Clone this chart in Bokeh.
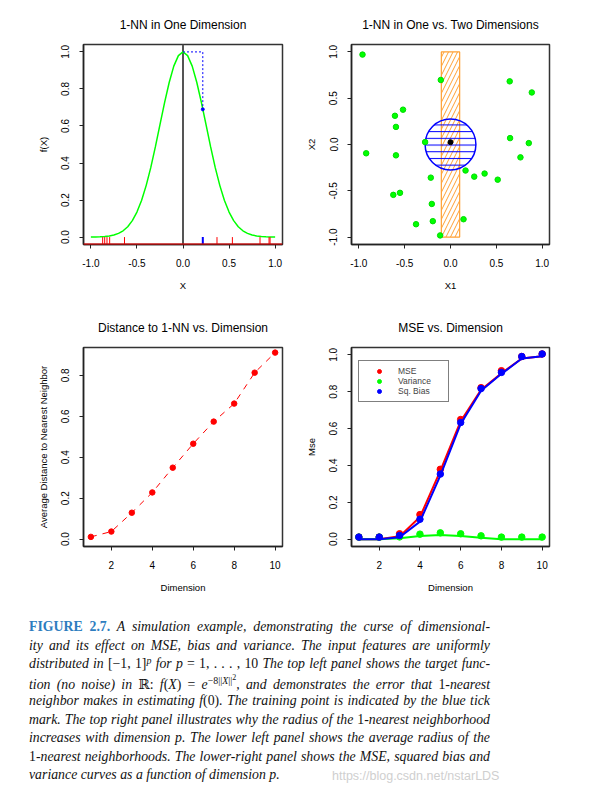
from bokeh.plotting import figure
from bokeh.models import (Range1d, FixedTicker, PrintfTickFormatter, Span, Legend,
                          LegendItem, Div)
from bokeh.layouts import column, row
from bokeh.embed import file_html
from bokeh.resources import INLINE

# ---------------- data ----------------
# Panel 1: target function f(X) on [-1, 1]
curve_x = [-1.0, -0.95, -0.9, -0.85, -0.8, -0.75, -0.7, -0.65, -0.6, -0.55, -0.5,
           -0.45, -0.4, -0.35, -0.3, -0.25, -0.2, -0.15, -0.1, -0.05, 0.0,
           0.05, 0.1, 0.15, 0.2, 0.25, 0.3, 0.35, 0.4, 0.45, 0.5,
           0.55, 0.6, 0.65, 0.7, 0.75, 0.8, 0.85, 0.9, 0.95, 1.0]
curve_y = [0.0003, 0.0007, 0.0015, 0.003, 0.006, 0.011, 0.020, 0.034, 0.056, 0.089, 0.135,
           0.198, 0.278, 0.375, 0.487, 0.607, 0.726, 0.835, 0.923, 0.980, 1.0,
           0.980, 0.923, 0.835, 0.726, 0.607, 0.487, 0.375, 0.278, 0.198, 0.135,
           0.089, 0.056, 0.034, 0.020, 0.011, 0.006, 0.003, 0.0015, 0.0007, 0.0003]
rug_red = [-0.872, -0.85, -0.825, -0.796, -0.635, 0.369, 0.536, 0.836, 0.934, 0.945]
rug_blue = [0.215]
target_x = 0.0
f_target = 1.0
nn_x = 0.215
nn_y = 0.69

# Panel 2: sample points in two dimensions
pts2_x = [-0.96, -0.106, 0.646, 0.887, -0.518, -0.606, -0.595, -0.277, -0.920, -0.595,
          0.650, 0.854, 0.763, 0.164, 0.259, 0.372, 0.515, -0.215, -0.624, -0.551,
          -0.204, -0.376, -0.193, 0.142, -0.113]
pts2_y = [0.971, 0.697, 0.682, 0.562, 0.376, 0.310, 0.190, 0.026, -0.095, -0.117,
          0.069, 0.015, -0.139, -0.281, -0.347, -0.314, -0.380, -0.358, -0.544, -0.522,
          -0.642, -0.861, -0.828, -0.807, -0.982]
test_x = [0.0]
test_y = [0.025]
strip_half = 0.1
strip_lo, strip_hi = -1.0, 1.0
ball_x, ball_y, ball_r = 0.0, 0.0, 0.277

# Panel 3 / 4: dimension
dims = [1, 2, 3, 4, 5, 6, 7, 8, 9, 10]
avg_dist = [0.011, 0.037, 0.129, 0.228, 0.349, 0.466, 0.574, 0.662, 0.813, 0.911]

mse_line = [0.0, 0.0, 0.015, 0.12, 0.37, 0.64, 0.81, 0.90, 0.98, 0.993]
mse_pts = [0.011, 0.011, 0.029, 0.133, 0.379, 0.649, 0.822, 0.914, 0.991, 1.005]
bias_line = [0.0, 0.0, 0.01, 0.095, 0.345, 0.625, 0.805, 0.897, 0.98, 0.993]
bias_pts = [0.011, 0.011, 0.02, 0.108, 0.353, 0.633, 0.817, 0.905, 0.991, 1.005]
var_line = [0.0, 0.0, 0.005, 0.017, 0.023, 0.017, 0.007, 0.0, 0.0, 0.0]
var_pts = [0.011, 0.011, 0.012, 0.027, 0.034, 0.029, 0.018, 0.011, 0.011, 0.011]

ticks_pm1 = [-1.0, -0.5, 0.0, 0.5, 1.0]
ticks_01 = [0.0, 0.2, 0.4, 0.6, 0.8, 1.0]
ticks_08 = [0.0, 0.2, 0.4, 0.6, 0.8]
ticks_dim = [2, 4, 6, 8, 10]

FONT = "Liberation Sans"
GREEN = "#00FF00"


def make_fig(w, h, xr, yr, title, borders, xlabel, ylabel, xt, yt, xfmt, yfmt):
    lb, rb, tb, bb = borders
    p = figure(width=w, height=h, x_range=Range1d(*xr), y_range=Range1d(*yr),
               output_backend="svg", toolbar_location=None,
               min_border_left=lb, min_border_right=rb,
               min_border_top=tb, min_border_bottom=bb)
    p.title.text = title
    p.title.align = "center"
    p.title.text_font = FONT
    p.title.text_font_size = "12px"
    p.title.text_font_style = "normal"
    p.title.text_color = "black"
    p.title.standoff = 26
    p.grid.visible = False
    p.outline_line_color = "#333333"
    p.outline_line_width = 1.5
    p.background_fill_color = "white"
    p.border_fill_color = "white"
    for ax, lab, t, fmt in ((p.xaxis[0], xlabel, xt, xfmt), (p.yaxis[0], ylabel, yt, yfmt)):
        ax.ticker = FixedTicker(ticks=t)
        ax.formatter = PrintfTickFormatter(format=fmt)
        ax.axis_label = lab
        ax.axis_label_text_font = FONT
        ax.axis_label_text_font_size = "9.5px"
        ax.axis_label_text_font_style = "normal"
        ax.axis_label_text_color = "black"
        ax.major_label_text_font = FONT
        ax.major_label_text_font_size = "10px"
        ax.major_label_text_color = "black"
        ax.axis_line_color = "#222222"
        ax.axis_line_width = 1.5
        ax.major_tick_line_color = "#222222"
        ax.major_tick_out = 4
        ax.major_tick_in = 0
        ax.minor_tick_out = 0
        ax.minor_tick_in = 0
    p.xaxis[0].major_label_standoff = 10
    p.xaxis[0].axis_label_standoff = 10
    p.yaxis[0].major_label_orientation = "vertical"
    p.yaxis[0].major_label_standoff = 10
    p.yaxis[0].axis_label_standoff = 10
    return p


# ---------------- panel 1 ----------------
yr1 = (-0.04, 1.04)
p1 = make_fig(300, 300, (-1.08, 1.08), yr1, "1-NN in One Dimension",
              (83, 18, 44, 56), "X", "f(X)", ticks_pm1, ticks_01, "%.1f", "%.1f")
p1.add_layout(Span(location=target_x, dimension="height", line_color="#555555",
                   line_width=2, level="underlay"))
p1.line(curve_x, curve_y, line_color=GREEN, line_width=1.5)
p1.segment(x0=rug_red, y0=[0.0] * len(rug_red), x1=rug_red, y1=[yr1[0]] * len(rug_red),
           line_color="red", line_width=1)
p1.add_layout(Span(location=yr1[0], dimension="width", line_color="red", line_width=2))
p1.segment(x0=rug_blue, y0=[0.0], x1=rug_blue, y1=[yr1[0]], line_color="blue", line_width=2)
p1.line([target_x, nn_x, nn_x], [f_target, f_target, nn_y], line_color="blue",
        line_width=1, line_dash="2 2")
p1.scatter([nn_x], [nn_y], size=3, color="blue")

# ---------------- panel 2 ----------------
p2 = make_fig(260, 300, (-1.08, 1.08), (-1.08, 1.08), "1-NN in One vs. Two Dimensions",
              (51, 11, 44, 56), "X1", "X2", ticks_pm1, ticks_pm1, "%.1f", "%.1f")
p2.quad(left=[-strip_half], right=[strip_half], bottom=[strip_lo], top=[strip_hi],
        fill_color=None, line_color="#FFA033", line_width=1.2,
        hatch_pattern="/", hatch_color="#FFA033", hatch_scale=9, hatch_weight=1)
p2.circle(x=[ball_x], y=[ball_y], radius=ball_r, fill_color=None, line_color="blue",
          line_width=1.5, hatch_pattern="-", hatch_color="blue", hatch_scale=6.7,
          hatch_weight=1)
p2.scatter(pts2_x, pts2_y, size=5.5, fill_color=GREEN, line_color="#00DD00")
p2.scatter(test_x, test_y, size=5, color="black")

# ---------------- panel 3 ----------------
p3 = make_fig(300, 300, (0.64, 10.36), (-0.036, 0.936), "Distance to 1-NN vs. Dimension",
              (83, 18, 47, 54), "Dimension", "Average Distance to Nearest Neighbor",
              ticks_dim, ticks_08, "%d", "%.1f")
p3.line(dims, avg_dist, line_color="red", line_width=1, line_dash="6 6")
p3.scatter(dims, avg_dist, size=5.5, color="red")

# ---------------- panel 4 ----------------
p4 = make_fig(260, 300, (0.64, 10.36), (-0.04, 1.04), "MSE vs. Dimension",
              (51, 11, 47, 54), "Dimension", "Mse", ticks_dim, ticks_01, "%d", "%.1f")
p4.line(dims, mse_line, line_color="red", line_width=2)
r_mse = p4.scatter(dims, mse_pts, size=6.5, color="red")
p4.line(dims, var_line, line_color=GREEN, line_width=2)
r_var = p4.scatter(dims, var_pts, size=6.5, color=GREEN)
p4.line(dims, bias_line, line_color="blue", line_width=2)
r_bias = p4.scatter(dims, bias_pts, size=6.5, color="blue")
legend = Legend(items=[LegendItem(label="MSE", renderers=[r_mse]),
                       LegendItem(label="Variance", renderers=[r_var]),
                       LegendItem(label="Sq. Bias", renderers=[r_bias])],
                location=(7, 144), glyph_width=30, glyph_height=10, label_height=10,
                label_width=45, spacing=0, padding=5, margin=0, label_standoff=4,
                border_line_color="black", border_line_width=1.2,
                label_text_font=FONT, label_text_font_size="8.5px",
                background_fill_color="white", background_fill_alpha=1.0)
p4.add_layout(legend)

# ---------------- caption ----------------
U = '<span style="font-style:normal">'
E = '</span>'
SUP = '<span style="position:relative;top:-0.45em;font-size:72%">'
lines = [
    '<span style="font-style:normal;font-weight:bold;color:#2E7DBF">FIGURE 2.7.</span> '
    'A simulation example, demonstrating the curse of dimensional-',
    'ity and its effect on MSE, bias and variance. The input features are uniformly',
    'distributed in ' + U + '[&minus;1, 1]' + E + SUP + 'p' + E + ' for p ' + U
    + '= 1, . . . , 10' + E + ' The top left panel shows the target func-',
    'tion (no noise) in ' + U + '&#8477;: ' + E + 'f' + U + '(' + E + 'X' + U + ') = ' + E
    + 'e' + SUP + U + '&minus;8||' + E + 'X' + U + '||<sup style="font-size:80%">2</sup>'
    + E + E + ', and demonstrates the error that ' + U + '1' + E + '-nearest',
    'neighbor makes in estimating f' + U + '(0)' + E + '. The training point is indicated by the blue tick',
    'mark. The top right panel illustrates why the radius of the ' + U + '1' + E + '-nearest neighborhood',
    'increases with dimension p. The lower left panel shows the average radius of the',
    U + '1' + E + '-nearest neighborhoods. The lower-right panel shows the MSE, squared bias and',
]
line_style = ("text-align:justify;text-align-last:justify;word-spacing:-0.5px;"
              "height:18.5px;line-height:18.5px;overflow:visible;")
body = "".join('<div style="%s">%s</div>' % (line_style, t) for t in lines)
body += ('<div style="height:18.5px;line-height:18.5px;white-space:nowrap;">'
         'variance curves as a function of dimension p.</div>')
watermark = ('<div style="position:absolute;left:327px;top:163px;font-family:\'Liberation Sans\','
             'sans-serif;font-style:normal;font-size:12.5px;color:#cfcfcf;white-space:nowrap;">'
             'https://blog.csdn.net/nstarLDS</div>')
caption_html = ('<div style="position:relative;width:585px;height:180px;">'
                '<div style="position:absolute;left:24px;top:13px;width:461px;'
                'font-family:\'Liberation Serif\',\'DejaVu Serif\',serif;font-style:italic;'
                'font-size:13.8px;color:#111111;">' + body + '</div>' + watermark + '</div>')
caption = Div(text=caption_html, width=585, height=180)

layout = column(row(p1, p2), row(p3, p4), caption)

open("out.html", "w").write(file_html(layout, INLINE))
